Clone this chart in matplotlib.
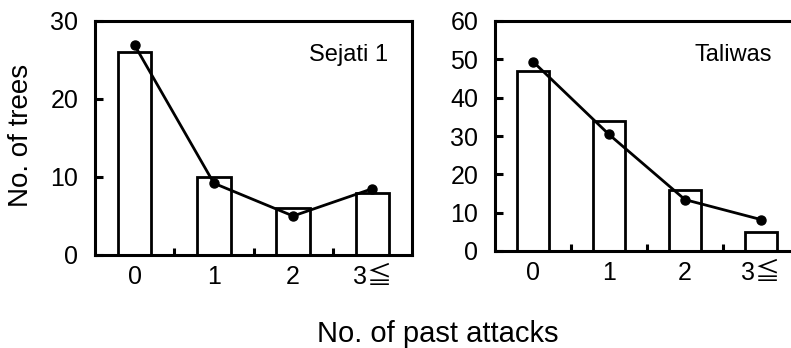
import matplotlib
matplotlib.use("Agg")
import matplotlib.pyplot as plt
import numpy as np

plt.rcParams['font.family'] = ['Liberation Sans', 'Noto Sans CJK JP', 'DejaVu Sans']

# categories (number of past attacks)
categories = ['0', '1', '2', '3≦']

# Sejati 1 site: observed trees (bars) and expected (points)
sejati_obs = [26, 10, 6, 8]
sejati_exp = [26.9, 9.2, 5.0, 8.5]

# Taliwas site
taliwas_obs = [47, 34, 16, 5]
taliwas_exp = [49.4, 30.4, 13.4, 8.2]

W, H = 791, 348
fig = plt.figure(figsize=(W / 100, H / 100), dpi=100)

ax1 = fig.add_axes([95 / W, 1 - 255 / H, 317 / W, 234 / H])
ax2 = fig.add_axes([495 / W, 1 - 251 / H, 304 / W, 230 / H])

LW = 2.2


def draw_panel(ax, obs, exp, ymax, label, lx, ly):
    x = np.arange(len(categories))
    ax.bar(x, obs, width=0.42, facecolor='white', edgecolor='black',
           linewidth=2.0, zorder=2)
    ax.plot(x, exp, color='black', linewidth=2.0, marker='o',
            markersize=6.5, zorder=3)
    ax.set_xlim(-0.5, 3.5)
    ax.set_ylim(0, ymax)
    ax.set_yticks(np.arange(0, ymax + 1, 10))
    ax.set_xticks(x)
    ax.set_xticklabels(categories)
    ax.set_xticks([0.5, 1.5, 2.5], minor=True)
    ax.tick_params(axis='x', which='major', length=0, pad=7, labelsize=18)
    ax.tick_params(axis='x', which='minor', direction='in', length=5,
                   width=LW)
    ax.tick_params(axis='y', direction='in', length=6, width=LW, pad=12,
                   labelsize=18)
    for s in ax.spines.values():
        s.set_linewidth(LW)
    ax.text(lx, ly, label, transform=ax.transAxes, ha='right',
            va='center', fontsize=17)


draw_panel(ax1, sejati_obs, sejati_exp, 30, 'Sejati 1', 0.924, 0.855)
draw_panel(ax2, taliwas_obs, taliwas_exp, 60, 'Taliwas', 0.911, 0.852)

fig.text(21 / W, 1 - 135 / H, 'No. of trees', rotation=90, ha='center',
         va='center', fontsize=20)
fig.text(438 / W, 1 - 334 / H, 'No. of past attacks', ha='center',
         va='center', fontsize=21)

fig.savefig('out.png', dpi=100)
